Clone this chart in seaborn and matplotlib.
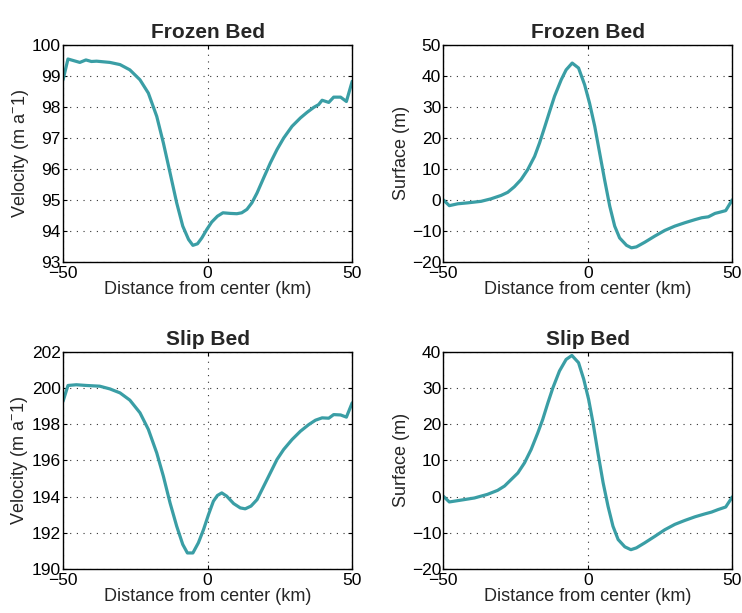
import numpy as np
import pandas as pd
import seaborn as sns
import matplotlib
matplotlib.use('Agg')
import matplotlib.pyplot as plt

# distance from center (km) and values
frozen_vel_x = [-50, -48.3, -44.2, -42.1, -40.2, -38.4, -33.8, -30.3, -26.9, -23.4, -20.5, -17.6,
                -15.3, -13.0, -10.7, -8.6, -6.6, -5.1, -3.5, -2.0, -0.3, 1.4, 3.4, 5.3, 7.8, 10.1,
                11.8, 13.6, 15.3, 17.1, 19.4, 21.7, 24.0, 26.3, 29.2, 32.1, 34.4, 36.7, 38.4, 39.6,
                41.9, 43.6, 46.0, 48.0, 50]
frozen_vel = [98.87, 99.54, 99.43, 99.51, 99.46, 99.47, 99.43, 99.36, 99.19, 98.87, 98.44, 97.69,
              96.83, 95.87, 94.90, 94.15, 93.72, 93.53, 93.58, 93.77, 94.04, 94.28, 94.47, 94.58,
              94.56, 94.55, 94.58, 94.69, 94.90, 95.22, 95.71, 96.19, 96.62, 96.99, 97.37, 97.64,
              97.82, 97.98, 98.07, 98.21, 98.14, 98.31, 98.31, 98.17, 98.82]

frozen_surf_x = [-50, -47.9, -45.0, -41.6, -36.9, -33.5, -30.0, -27.7, -25.4, -23.1, -20.8, -18.4,
                 -16.7, -15.0, -13.2, -11.5, -9.2, -7.5, -5.4, -3.2, -1.1, 0.6, 2.4, 4.1, 5.8, 7.6,
                 9.3, 11.0, 13.4, 15.1, 16.8, 19.7, 23.2, 26.6, 30.1, 33.6, 37.1, 39.4, 41.7, 44.0,
                 45.7, 47.7, 50]
frozen_surf = [0.0, -1.9, -1.3, -1.0, -0.5, 0.3, 1.4, 2.4, 4.2, 6.5, 9.7, 14.0,
               18.3, 23.2, 28.5, 33.4, 38.7, 41.9, 44.1, 42.5, 37.1, 31.2, 23.7, 15.1, 6.5, -2.1,
               -8.5, -12.3, -14.7, -15.5, -15.2, -13.7, -11.7, -9.9, -8.5, -7.4, -6.4, -5.8, -5.5, -4.4,
               -4.0, -3.5, 0.0]

slip_vel_x = [-50, -48.3, -45.4, -41.9, -37.3, -33.8, -30.3, -26.9, -23.4, -20.5, -17.6, -15.3,
              -13.0, -10.7, -8.6, -7.0, -5.1, -3.2, -1.4, 0.3, 2.0, 3.4, 4.9, 6.6, 9.0, 11.3,
              13.0, 15.0, 17.1, 19.4, 21.7, 24.0, 26.3, 29.2, 32.1, 35.0, 37.3, 39.6, 41.9, 43.6,
              46.0, 48.0, 50]
slip_vel = [199.27, 200.14, 200.18, 200.14, 200.10, 199.95, 199.73, 199.33, 198.63, 197.71, 196.41, 195.12,
            193.65, 192.36, 191.35, 190.88, 190.88, 191.44, 192.18, 193.0, 193.74, 194.06, 194.2, 194.02,
            193.61, 193.37, 193.32, 193.47, 193.83, 194.57, 195.31, 196.05, 196.6, 197.15, 197.61, 197.98,
            198.22, 198.35, 198.33, 198.53, 198.51, 198.39, 199.18]

slip_surf_x = [-50, -47.9, -43.9, -39.2, -34.7, -31.2, -28.8, -26.5, -24.2, -21.9, -19.6, -17.3,
               -15.6, -13.8, -12.1, -9.8, -7.5, -5.5, -3.2, -1.4, 0.3, 1.8, 3.5, 5.3, 7.0, 8.7,
               10.5, 12.8, 14.9, 16.8, 19.7, 23.2, 26.6, 30.1, 33.6, 37.1, 40.5, 42.8, 45.1, 47.7, 50]
slip_surf = [0.1, -1.5, -1.0, -0.4, 0.6, 1.7, 2.9, 4.7, 6.5, 9.3, 13.0, 17.6,
             21.3, 25.9, 30.0, 34.7, 37.9, 39.0, 37.0, 32.4, 26.8, 20.4, 12.1, 3.8, -2.7, -8.2,
             -11.9, -13.9, -14.7, -14.2, -12.8, -11.0, -9.2, -7.7, -6.6, -5.6, -4.8, -4.3, -3.6, -2.9, -0.1]

panels = [
    ('Frozen Bed', frozen_vel_x, frozen_vel, r'Velocity (m a$^{-}$1)', (93, 100), np.arange(93, 101, 1)),
    ('Frozen Bed', frozen_surf_x, frozen_surf, 'Surface (m)', (-20, 50), np.arange(-20, 51, 10)),
    ('Slip Bed', slip_vel_x, slip_vel, r'Velocity (m a$^{-}$1)', (190, 202), np.arange(190, 203, 2)),
    ('Slip Bed', slip_surf_x, slip_surf, 'Surface (m)', (-20, 40), np.arange(-20, 41, 10)),
]

sns.set_style('white')
plt.rcParams['font.family'] = ['Liberation Sans', 'DejaVu Sans']
plt.rcParams['mathtext.default'] = 'regular'
plt.rcParams['axes.unicode_minus'] = True

fig, axes = plt.subplots(2, 2, figsize=(7.42, 6.13), dpi=100)
fig.subplots_adjust(left=0.085, right=0.987, top=0.927, bottom=0.072, wspace=0.315, hspace=0.415)

line_color = '#3a9ea5'
for ax, (title, xs, ys, ylabel, ylim, yticks) in zip(axes.flat, panels):
    df = pd.DataFrame({'x': xs, 'y': ys})
    sns.lineplot(data=df, x='x', y='y', ax=ax, color=line_color, linewidth=2.3)
    ax.set_xlim(-50, 50)
    ax.set_ylim(*ylim)
    ax.set_xticks([-50, 0, 50])
    ax.set_yticks(yticks)
    ax.set_title(title, fontsize=15, fontweight='bold', pad=5)
    ax.set_xlabel('Distance from center (km)', fontsize=13, labelpad=0)
    ax.set_ylabel(ylabel, fontsize=13, labelpad=1)
    ax.tick_params(direction='in', length=3, width=0.8, labelsize=12.5, pad=1.5,
                   top=True, right=True, bottom=True, left=True, colors='black')
    ax.tick_params(axis='x', pad=3)
    ax.grid(True, linestyle=(0, (1, 5)), color='#333333', linewidth=0.8)
    for s in ax.spines.values():
        s.set_color('black')
        s.set_linewidth(1.0)

fig.savefig('out.png', dpi=100)
